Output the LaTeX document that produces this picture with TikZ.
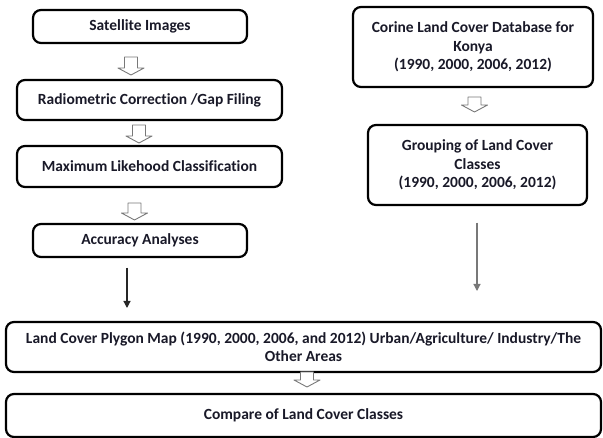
\documentclass[tikz,border=0pt]{standalone}
\usepackage{fontspec}
\setmainfont[Ligatures=NoCommon]{Carlito}
\usetikzlibrary{arrows.meta}
\definecolor{txt}{RGB}{25,25,40}
\definecolor{arrgray}{RGB}{120,120,120}
\tikzset{
  box/.style={draw=black, line width=2.2pt, rounded corners=8pt, fill=white,
    font=\fontsize{15.5}{18.5}\selectfont\bfseries, text=txt, align=center, inner sep=0pt},
  openarr/.style={draw=arrgray, line width=0.9pt, fill=white, line join=round},
  thin arrow/.style={line width=1.2pt, -{Triangle[width=7pt,length=7pt]}},
}
\newcommand\openarrow[3]{%
  \draw[openarr] (#1-6.5,#2) -- (#1+6.5,#2) -- (#1+6.5,#3-7) -- (#1+13,#3-7)
    -- (#1,#3) -- (#1-13,#3-7) -- (#1-6.5,#3-7) -- cycle;}
\begin{document}
\begin{tikzpicture}[x=1pt,y=-1pt]
\useasboundingbox (0,0) rectangle (603,438);
% left column
\node[box, minimum width=214pt, minimum height=33pt] (b1) at (140,26.5) {Satellite Images};
\node[box, minimum width=265pt, minimum height=40pt] (b2) at (149.5,100) {Radiometric Correction /Gap Filing};
\node[box, minimum width=265pt, minimum height=41pt] (b3) at (149.5,166.5) {Maximum Likehood Classification};
\node[box, minimum width=214pt, minimum height=33pt] (b4) at (140,240.5) {Accuracy Analyses};
% right column
\node[box, minimum width=240pt, minimum height=80pt] (b5) at (473,47) {Corine Land Cover Database for\\Konya\\(1990, 2000, 2006, 2012)};
\node[box, minimum width=219pt, minimum height=80pt] (b6) at (477.5,165) {Grouping of Land Cover\\Classes\\(1990, 2000, 2006, 2012)};
% bottom
\node[box, minimum width=595pt, minimum height=50pt] (b7) at (303.5,347) {Land Cover Plygon Map (1990, 2000, 2006, and 2012) Urban/Agriculture/ Industry/The\\Other Areas};
\node[box, minimum width=595pt, minimum height=43pt] (b8) at (303.5,415.5) {Compare of Land Cover Classes};
% open block arrows
\openarrow{131}{57}{75}
\openarrow{139}{125}{143}
\openarrow{134.5}{203}{220}
\openarrow{474.5}{97}{112}
\openarrow{307}{372}{387}
% thin arrows
\coordinate (l1) at (127,268);
\coordinate (l2) at (127,308);
\coordinate (r1) at (477,223);
\coordinate (r2) at (477,291);
\draw[thin arrow, draw=black!85, fill=black!85] (l1) -- (l2);
\draw[thin arrow, draw=arrgray, fill=black!85] (r1) -- (r2);
\end{tikzpicture}
\end{document}
